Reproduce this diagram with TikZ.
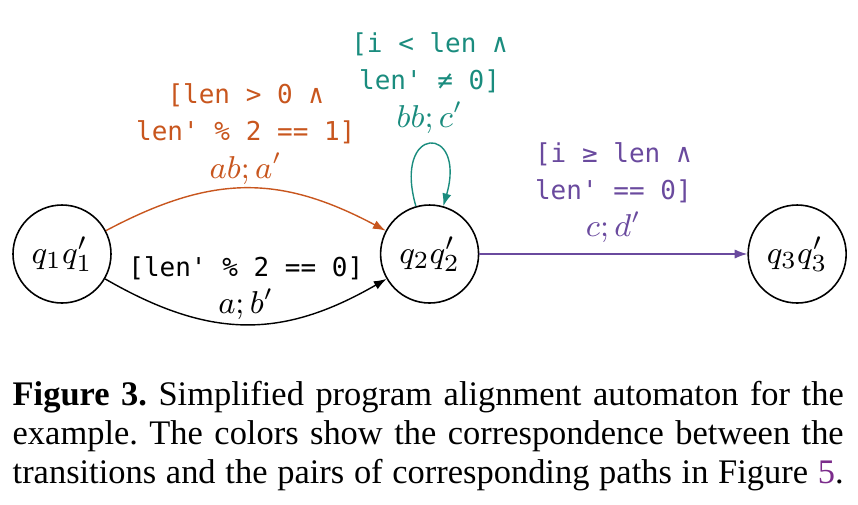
\documentclass[tikz,border=0pt]{standalone}
\usepackage{fontspec}
\setmainfont{Liberation Serif}
\setmonofont{DejaVu Sans Mono}
\usetikzlibrary{arrows.meta,positioning}
\definecolor{autInk}{HTML}{000000}
\definecolor{autOrange}{HTML}{C8561E}
\definecolor{autTeal}{HTML}{1A8C7E}
\definecolor{autPurple}{HTML}{6A4A9E}
\definecolor{autLink}{HTML}{7B2C8B}
\tikzset{
  aut/state/.style={circle, draw=autInk, line width=0.45pt, minimum size=0.98cm,
    inner sep=0pt, font=\fontsize{9.5}{11}\selectfont},
  aut/edge/.style={-{Latex[length=3.6pt,width=2.6pt]}, line width=0.4pt},
  aut/guard/.style={align=center, inner sep=1pt,
    font=\fontsize{7.4}{10.6}\selectfont\ttfamily},
  aut/caption/.style={anchor=base west, inner sep=0pt,
    font=\fontsize{9.8}{11}\selectfont\frenchspacing},
}
% action pairs are set in math italic, a little larger than the guards
\newcommand{\autact}[1]{{\fontsize{9}{10.6}\selectfont$#1$}}
\newcommand{\autline}[1]{\makebox[8.31cm][s]{#1}}

\begin{document}
\begin{tikzpicture}[
  node distance=2.68cm,
  guard/.style={aut/guard},
  edge/.style={aut/edge}
]
\useasboundingbox (0,0) rectangle (8.58,5.04);
\node[aut/state] (s1) at (0.62,2.50) {$q_1q_1'$};
\node[aut/state, right=of s1] (s2) {$q_2q_2'$};
\node[aut/state, right=of s2] (s3) {$q_3q_3'$};
\draw[edge, autOrange] (s1) to[bend left=28, looseness=1.1]
  node[guard, above] {[len > 0 ∧\\len' \% 2 == 1]\\\autact{ab;a'}} (s2);
\draw[edge] (s1) to[bend right=30, looseness=1.1]
  node[guard, above] {[len' \% 2 == 0]\\\autact{a;b'}} (s2);
\draw[edge, autTeal] (s2) to[out=106, in=74, looseness=8, min distance=8mm]
  node[guard, above=2pt] {[i < len ∧\\len' ≠ 0]\\\autact{bb;c'}} (s2);
\draw[edge, autPurple] (s2) --
  node[guard, above=2pt] {[i ≥ len ∧\\len' == 0]\\\autact{c;d'}} (s3);
\node[aut/caption] (cap1) at (0.12,0.99)
  {\autline{\textbf{Figure 3.} Simplified program alignment automaton for the}};
\node[aut/caption] (cap2) at (0.12,0.60)
  {\autline{example. The colors show the correspondence between the}};
\node[aut/caption] (cap3) at (0.12,0.21)
  {\autline{transitions and the pairs of corresponding paths in Figure \textcolor{autLink}{5}.}};
\end{tikzpicture}
\end{document}
